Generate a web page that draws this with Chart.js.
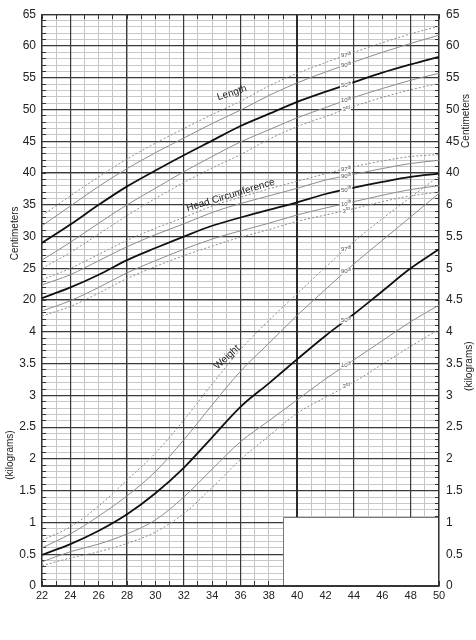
<!DOCTYPE html>
<html>
<head>
<meta charset="utf-8">
<title>Preterm growth chart</title>
<script src="https://cdn.jsdelivr.net/npm/chart.js@4.4.0/dist/chart.umd.min.js"></script>
<style>
  html, body { margin: 0; padding: 0; background: #fff; }
  #wrap { width: 476px; height: 640px; position: relative; }
</style>
</head>
<body>
<div id="wrap"><canvas id="growth"></canvas></div>
<script>
// gestational age (weeks)
const weeks = [22, 24, 26, 28, 30, 32, 34, 36, 38, 40, 42, 44, 46, 48, 50];

// length (cm)
const length3  = [25.0, 27.5, 30.4, 33.3, 36.0, 38.5, 40.8, 42.9, 45.3, 47.3, 48.9, 50.5, 51.9, 53.1, 54.1];
const length10 = [26.3, 29.1, 32.1, 35.0, 37.6, 40.2, 42.6, 44.9, 46.8, 48.7, 50.3, 51.9, 53.3, 54.6, 55.7];
const length50 = [29.0, 31.9, 35.0, 37.9, 40.4, 42.8, 45.1, 47.4, 49.3, 51.2, 52.8, 54.3, 55.8, 57.1, 58.3];
const length90 = [31.7, 34.8, 37.9, 40.7, 43.2, 45.5, 47.8, 49.9, 52.2, 54.2, 55.9, 57.5, 59.0, 60.4, 61.7];
const length97 = [33.3, 36.4, 39.4, 42.2, 44.7, 47.0, 49.2, 51.3, 53.7, 55.7, 57.4, 59.0, 60.5, 61.9, 63.1];

// head circumference (cm)
const head3  = [17.5, 19.0, 21.1, 23.4, 25.3, 27.0, 28.5, 29.9, 31.1, 32.4, 33.4, 34.4, 35.5, 36.4, 37.0];
const head10 = [18.3, 19.9, 22.0, 24.3, 26.2, 28.0, 29.6, 30.9, 32.1, 33.4, 34.5, 35.5, 36.5, 37.4, 38.0];
const head50 = [20.3, 22.0, 24.0, 26.3, 28.2, 30.0, 31.7, 33.0, 34.2, 35.4, 36.7, 37.7, 38.6, 39.4, 39.9];
const head90 = [22.4, 24.0, 26.2, 28.4, 30.3, 32.0, 33.8, 35.2, 36.4, 37.6, 38.9, 39.8, 40.7, 41.5, 42.0];
const head97 = [23.2, 25.0, 27.2, 29.4, 31.3, 33.0, 34.8, 36.2, 37.5, 38.7, 39.9, 41.0, 41.9, 42.6, 42.9];

// weight (kg)
const weight3  = [0.32, 0.44, 0.54, 0.67, 0.85, 1.14, 1.55, 1.99, 2.36, 2.72, 2.97, 3.21, 3.49, 3.77, 4.04];
const weight10 = [0.38, 0.54, 0.66, 0.82, 1.04, 1.40, 1.84, 2.27, 2.60, 2.93, 3.26, 3.56, 3.86, 4.16, 4.42];
const weight50 = [0.49, 0.66, 0.87, 1.13, 1.46, 1.86, 2.34, 2.82, 3.19, 3.57, 3.94, 4.28, 4.64, 5.00, 5.30];
const weight90 = [0.60, 0.82, 1.10, 1.42, 1.80, 2.30, 2.85, 3.38, 3.82, 4.26, 4.67, 5.07, 5.44, 5.81, 6.18];
const weight97 = [0.72, 0.93, 1.26, 1.67, 2.09, 2.61, 3.18, 3.72, 4.18, 4.60, 5.02, 5.42, 5.78, 6.12, 6.45];

const percentileNames = ['3', '10', '50', '90', '97'];
const percentileSuffix = ['rd', 'th', 'th', 'th', 'th'];

// curve titles: [text, week, value, axis, angle]
const curveTitles = [
  ['Length', 35.4, 52.6, 'y', -18],
  ['Head Circumference', 35.3, 36.5, 'y', -17],
  ['Weight', 35.05, 3.6, 'yKg', -43]
];

const FONT = '"Liberation Sans", Arial, Helvetica, sans-serif';
const MAJOR = '#3a3a3a';

function pts(values) {
  return weeks.map((w, i) => ({ x: w, y: values[i] }));
}

function curve(values, idx, axis) {
  const style = {
    borderColor: idx === 2 ? '#111' : '#8c8c8c',
    borderWidth: idx === 2 ? 1.8 : 1,
    borderDash: (idx === 0 || idx === 4) ? [2, 2] : []
  };
  return Object.assign({
    data: pts(values),
    yAxisID: axis,
    pointRadius: 0,
    fill: false,
    cubicInterpolationMode: 'monotone'
  }, style);
}

const groups = [
  { axis: 'y', sets: [length3, length10, length50, length90, length97] },
  { axis: 'y', sets: [head3, head10, head50, head90, head97] },
  { axis: 'yKg', sets: [weight3, weight10, weight50, weight90, weight97] }
];

const datasets = [];
groups.forEach(g => g.sets.forEach((s, i) => datasets.push(curve(s, i, g.axis))));

// value of a series at a given week (straight line between read points)
function valueAt(values, w) {
  for (let i = 0; i < weeks.length - 1; i++) {
    if (w >= weeks[i] && w <= weeks[i + 1]) {
      const t = (w - weeks[i]) / (weeks[i + 1] - weeks[i]);
      return values[i] + t * (values[i + 1] - values[i]);
    }
  }
  return values[values.length - 1];
}

// left axis: kg below 20 cm level, right axis: kg below 40 cm level
function leftLabel(v) {
  if (v % 5 !== 0) return '';
  return v >= 20 ? String(v) : String((v + 25) / 10);
}
function rightLabel(v) {
  if (v % 5 !== 0) return '';
  return v >= 40 ? String(v) : String((v + 25) / 10);
}

function align(pixel, width) {
  const half = width / 2;
  return Math.round(pixel - half) + half;
}

const chartPlugin = {
  id: 'growthExtras',
  beforeDatasetsDraw(chart) {
    const ctx = chart.ctx;
    const a = chart.chartArea;
    const xs = chart.scales.x, ys = chart.scales.y, yk = chart.scales.yKg;
    ctx.save();
    // heavy grid lines go over the light ones
    ctx.strokeStyle = MAJOR;
    ctx.lineWidth = 1.2;
    ctx.beginPath();
    for (let v = -25; v <= 65; v += 5) {
      const py = align(ys.getPixelForValue(v), 1.2);
      ctx.moveTo(a.left, py); ctx.lineTo(a.right, py);
    }
    for (let w = 24; w <= 48; w += 4) {
      if (w === 40) continue;
      const px = align(xs.getPixelForValue(w), 1.2);
      ctx.moveTo(px, a.top); ctx.lineTo(px, a.bottom);
    }
    ctx.stroke();
    ctx.lineWidth = 2;
    ctx.strokeStyle = '#2a2a2a';
    ctx.beginPath();
    const p40 = align(xs.getPixelForValue(40), 2);
    ctx.moveTo(p40, a.top); ctx.lineTo(p40, a.bottom);
    ctx.stroke();
    // small edge ticks
    ctx.strokeStyle = '#333';
    ctx.lineWidth = 1;
    ctx.beginPath();
    for (let v = -25; v <= 65; v++) {
      const py = align(ys.getPixelForValue(v), 1);
      ctx.moveTo(a.left, py); ctx.lineTo(a.left + 4, py);
      ctx.moveTo(a.right - 4, py); ctx.lineTo(a.right, py);
    }
    for (let w = 22; w <= 50; w++) {
      const px = align(xs.getPixelForValue(w), 1);
      ctx.moveTo(px, a.top); ctx.lineTo(px, a.top + 5);
      ctx.moveTo(px, a.bottom - 5); ctx.lineTo(px, a.bottom);
    }
    ctx.stroke();
    // outer frame
    ctx.lineWidth = 1.2;
    ctx.strokeStyle = '#333';
    ctx.strokeRect(align(a.left, 1.2), align(a.top, 1.2), a.right - a.left, a.bottom - a.top);
    // blank box at lower right
    const bx = align(xs.getPixelForValue(39), 1);
    const by = align(yk.getPixelForValue(1.085), 1);
    ctx.fillStyle = '#fff';
    ctx.fillRect(bx, by, a.right - 1 - bx, a.bottom - 1 - by);
    ctx.strokeStyle = '#777';
    ctx.lineWidth = 1;
    ctx.beginPath();
    ctx.moveTo(bx, a.bottom - 1); ctx.lineTo(bx, by); ctx.lineTo(a.right - 1, by);
    ctx.stroke();
    ctx.restore();
  },
  afterDatasetsDraw(chart) {
    const ctx = chart.ctx;
    const xs = chart.scales.x;
    ctx.save();
    // percentile labels
    const wl = 43.45;
    const px = xs.getPixelForValue(wl);
    groups.forEach(g => {
      const sc = chart.scales[g.axis];
      g.sets.forEach((s, i) => {
        const py = sc.getPixelForValue(valueAt(s, wl));
        ctx.font = '6px ' + FONT;
        const w1 = ctx.measureText(percentileNames[i]).width;
        ctx.font = '4.5px ' + FONT;
        const w2 = ctx.measureText(percentileSuffix[i]).width;
        const tw = w1 + w2;
        ctx.fillStyle = '#fff';
        ctx.fillRect(px - tw / 2 - 1, py - 3.5, tw + 2, 7);
        ctx.fillStyle = '#555';
        ctx.textBaseline = 'middle';
        ctx.textAlign = 'left';
        ctx.font = '6px ' + FONT;
        ctx.fillText(percentileNames[i], px - tw / 2, py + 0.5);
        ctx.font = '4.5px ' + FONT;
        ctx.fillText(percentileSuffix[i], px - tw / 2 + w1, py - 1.2);
      });
    });
    // curve titles
    curveTitles.forEach(t => {
      const tx = xs.getPixelForValue(t[1]);
      const ty = chart.scales[t[3]].getPixelForValue(t[2]);
      ctx.save();
      ctx.translate(tx, ty);
      ctx.rotate(t[4] * Math.PI / 180);
      ctx.font = '10px ' + FONT;
      ctx.fillStyle = '#222';
      ctx.textAlign = 'center';
      ctx.textBaseline = 'middle';
      ctx.fillText(t[0], 0, 0);
      ctx.restore();
    });
    ctx.restore();
  },
  afterDraw(chart) {
    const ctx = chart.ctx;
    const ys = chart.scales.y, yk = chart.scales.yKg;
    const titles = [
      ['Centimeters', 15, ys.getPixelForValue(30.5)],
      ['(kilograms)', 10, yk.getPixelForValue(2.06)],
      ['Centimeters', 466, ys.getPixelForValue(48.2)],
      ['(kilograms)', 469, yk.getPixelForValue(3.46)]
    ];
    ctx.save();
    titles.forEach(t => {
      ctx.save();
      ctx.translate(t[1], t[2]);
      ctx.rotate(-Math.PI / 2);
      ctx.font = '10px ' + FONT;
      ctx.fillStyle = '#222';
      ctx.textAlign = 'center';
      ctx.textBaseline = 'middle';
      ctx.fillText(t[0], 0, 0);
      ctx.restore();
    });
    ctx.restore();
  }
};

new Chart(document.getElementById('growth'), {
  type: 'line',
  data: { datasets: datasets },
  plugins: [chartPlugin],
  options: {
    responsive: true,
    maintainAspectRatio: false,
    animation: false,
    layout: { padding: { top: 14, left: 0, right: 0, bottom: 0 } },
    plugins: { legend: { display: false }, tooltip: { enabled: false } },
    scales: {
      x: {
        type: 'linear', min: 22, max: 50,
        ticks: {
          stepSize: 1, autoSkip: false, maxRotation: 0, padding: 3,
          color: '#222', font: { family: FONT, size: 11 },
          callback: v => (v % 2 === 0 ? String(v) : '')
        },
        grid: { drawTicks: false, color: '#c4c4c4', lineWidth: 1 },
        border: { color: '#333', width: 1.2 },
        afterFit: s => { s.height = 54; }
      },
      y: {
        type: 'linear', position: 'left', min: -25, max: 65,
        ticks: {
          stepSize: 1, autoSkip: false, padding: 6,
          color: '#222', font: { family: FONT, size: 12 },
          callback: v => leftLabel(v)
        },
        grid: { drawTicks: false, color: '#c8c8c8', lineWidth: 1 },
        border: { color: '#333', width: 1.2 },
        afterFit: s => { s.width = 42; }
      },
      y2: {
        type: 'linear', position: 'right', min: -25, max: 65,
        ticks: {
          stepSize: 1, autoSkip: false, padding: 7,
          color: '#222', font: { family: FONT, size: 12 },
          callback: v => rightLabel(v)
        },
        grid: { display: false, drawTicks: false },
        border: { color: '#333', width: 1.2 },
        afterFit: s => { s.width = 37; }
      },
      yKg: { type: 'linear', display: false, min: 0, max: 9 }
    }
  }
});
</script>
</body>
</html>
